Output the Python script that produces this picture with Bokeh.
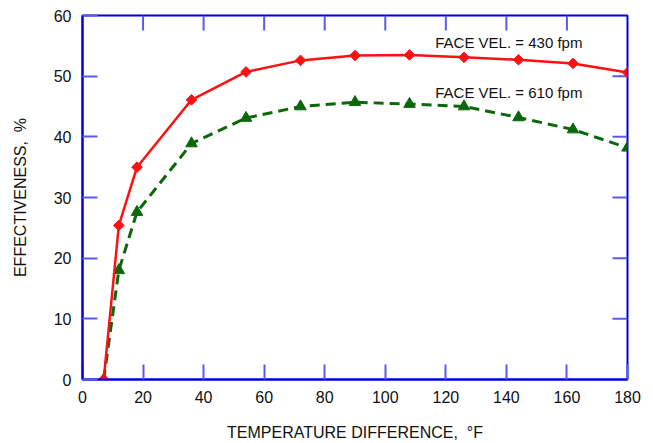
from bokeh.plotting import figure
from bokeh.models import Range1d, FixedTicker, ColumnDataSource
from bokeh.embed import file_html
from bokeh.resources import INLINE
from bokeh.core.properties import value
import math

# Data
temp_diff = [7, 12, 18, 36, 54, 72, 90, 108, 126, 144, 162, 180]
eff_430 = [0, 25.4, 35.0, 46.1, 50.7, 52.6, 53.4, 53.5, 53.1, 52.7, 52.1, 50.6]
eff_610 = [0, 18.0, 27.6, 38.9, 43.1, 45.0, 45.7, 45.4, 45.0, 43.2, 41.2, 38.2]
x_ticks = [0, 20, 40, 60, 80, 100, 120, 140, 160, 180]
y_ticks = [0, 10, 20, 30, 40, 50, 60]
labels = ["FACE VEL. = 430 fpm", "FACE VEL. = 610 fpm"]
label_x = [116.5, 116.5]
label_y = [55.5, 47.3]

FONT = "Liberation Sans"
AXIS_BLUE = "#0000dd"
TICK_BLUE = "#5a5aee"

W, H = 653, 443
BL, BR, BT, BB = 82, 26, 15, 64
X0, X1, Y0, Y1 = 0, 180, 0, 60

p = figure(width=W, height=H, output_backend="svg", toolbar_location=None,
           x_range=Range1d(X0, X1), y_range=Range1d(Y0, Y1),
           min_border_left=BL, min_border_right=BR, min_border_top=BT, min_border_bottom=BB)
p.xaxis.axis_label = "TEMPERATURE DIFFERENCE,\u00a0\u00a0\u00b0F"
p.yaxis.axis_label = "EFFECTIVENESS,\u00a0\u00a0%"
p.xgrid.visible = False
p.ygrid.visible = False
p.outline_line_color = AXIS_BLUE
p.outline_line_width = 2

def style_axis(ax, ticks):
    ax.ticker = FixedTicker(ticks=ticks)
    ax.axis_line_color = AXIS_BLUE
    ax.axis_line_width = 2
    ax.major_tick_in = 15
    ax.major_tick_out = 0
    ax.major_tick_line_color = TICK_BLUE
    ax.major_tick_line_width = 2
    ax.minor_tick_line_color = None
    ax.major_label_text_font_size = "16px"
    ax.major_label_text_color = "#111111"
    ax.axis_label_text_font_size = "16px"
    ax.axis_label_text_font_style = "normal"
    ax.axis_label_text_color = "#111111"

style_axis(p.xaxis[0], x_ticks)
p.xaxis[0].major_label_standoff = 11
p.xaxis[0].axis_label_standoff = 18
style_axis(p.yaxis[0], y_ticks)
p.yaxis[0].major_label_standoff = 11
p.yaxis[0].axis_label_standoff = 22

# inward tick marks on the top and right edges (mirroring the axis ticks)
tx = 15 * (X1 - X0) / (W - BL - BR)
ty = 15 * (Y1 - Y0) / (H - BT - BB)
inner_x = [t for t in x_ticks if X0 < t < X1]
inner_y = [t for t in y_ticks if Y0 < t < Y1]
p.segment(x0=inner_x, y0=[Y1] * len(inner_x), x1=inner_x, y1=[Y1 - ty] * len(inner_x),
          line_color=TICK_BLUE, line_width=2)
p.segment(x0=[X1] * len(inner_y), y0=inner_y, x1=[X1 - tx] * len(inner_y), y1=inner_y,
          line_color=TICK_BLUE, line_width=2)

src = ColumnDataSource(dict(x=temp_diff, a=eff_430, b=eff_610))

p.line("x", "b", source=src, line_color="#0a680a", line_width=3, line_dash="10 6")
p.scatter("x", "b", source=src, marker="triangle", size=11.5,
          fill_color="#0a680a", line_color="#0a680a")
p.line("x", "a", source=src, line_color="#ff1010", line_width=2.5)
p.scatter("x", "a", source=src, marker="square", angle=math.pi / 4, size=7.5,
          fill_color="#ff1010", line_color="#ff1010")

p.text(x=label_x, y=label_y, text=labels, text_font=value(FONT),
       text_font_size="15px", text_baseline="middle", text_align="left",
       text_color="#111111")

open("out.html", "w").write(file_html(p, INLINE))
